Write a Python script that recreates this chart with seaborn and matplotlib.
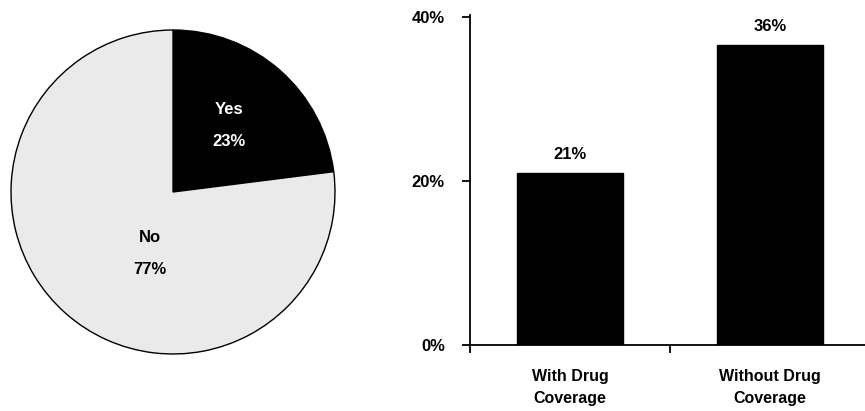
import matplotlib
matplotlib.use("Agg")
import matplotlib.pyplot as plt
import seaborn as sns
import pandas as pd
import numpy as np

# ---- data ----
pie_labels = ["Yes", "No"]
pie_values = [23, 77]
pie_colors = ["#000000", "#EAEAEA"]
pie_text_colors = ["white", "black"]

bar_categories = ["With Drug\nCoverage", "Without Drug\nCoverage"]
bar_values = [21.0, 36.6]
bar_labels = ["21%", "36%"]
y_ticks = [0, 20, 40]
y_tick_labels = ["0%", "20%", "40%"]

sns.set_theme(style="white")
plt.rcParams['font.family'] = ['Liberation Sans', 'DejaVu Sans']
plt.rcParams['font.weight'] = 'bold'
plt.rcParams['text.color'] = 'black'
plt.rcParams['xtick.color'] = 'black'
plt.rcParams['ytick.color'] = 'black'

FS = 12
FS_CAT = 11.5

fig = plt.figure(figsize=(8.65, 4.11), dpi=100)

# ---- pie ----
axp = fig.add_axes([11 / 865, 57 / 411, 324 / 865, 324 / 411])
wedges, _ = axp.pie(pie_values, colors=pie_colors, startangle=90, counterclock=False,
                    wedgeprops=dict(edgecolor="black", linewidth=1.0))
axp.set_aspect("equal")
axp.set_xlim(-1.0, 1.0)
axp.set_ylim(-1.0, 1.0)
label_pos = [(0.345, 0.41), (-0.14, -0.38)]
for (x, y), lab, val, col in zip(label_pos, pie_labels, pie_values, pie_text_colors):
    axp.text(x, y, f"{lab}\n{val}%", ha="center", va="center", color=col,
             fontsize=FS, fontweight="bold", linespacing=2.4)

# ---- bar ----
axb = fig.add_axes([470 / 865, 66 / 411, 400 / 865, 330 / 411])
df = pd.DataFrame({"cat": bar_categories, "val": bar_values})
sns.barplot(data=df, x="cat", y="val", color="black", width=0.53, ax=axb,
            saturation=1, edgecolor="black")
axb.set_xlim(-0.5, 1.5)
axb.set_ylim(0, 40.25)
axb.set_xlabel("")
axb.set_ylabel("")
for s in ["top", "right"]:
    axb.spines[s].set_visible(False)
for s in ["left", "bottom"]:
    axb.spines[s].set_color("black")
    axb.spines[s].set_linewidth(1.3)
axb.set_yticks(y_ticks)
axb.set_yticklabels(y_tick_labels, fontsize=FS, fontweight="bold")
axb.tick_params(axis="y", direction="out", length=6, width=1.3, color="black", pad=12, left=True)
axb.set_xticks([0, 1])
axb.set_xticklabels(bar_categories, fontsize=FS_CAT, fontweight="bold", linespacing=1.6)
axb.tick_params(axis="x", which="major", length=0, pad=17)
axb.set_xticks([-0.5, 0.5, 1.5], minor=True)
axb.tick_params(axis="x", which="minor", direction="out", length=6, width=1.3, color="black", bottom=True)
for i, (v, t) in enumerate(zip(bar_values, bar_labels)):
    axb.annotate(t, (i, v), xytext=(0, 13), textcoords="offset points", ha="center",
                 va="center", fontsize=FS, fontweight="bold", color="black")

fig.savefig("out.png", dpi=100)
